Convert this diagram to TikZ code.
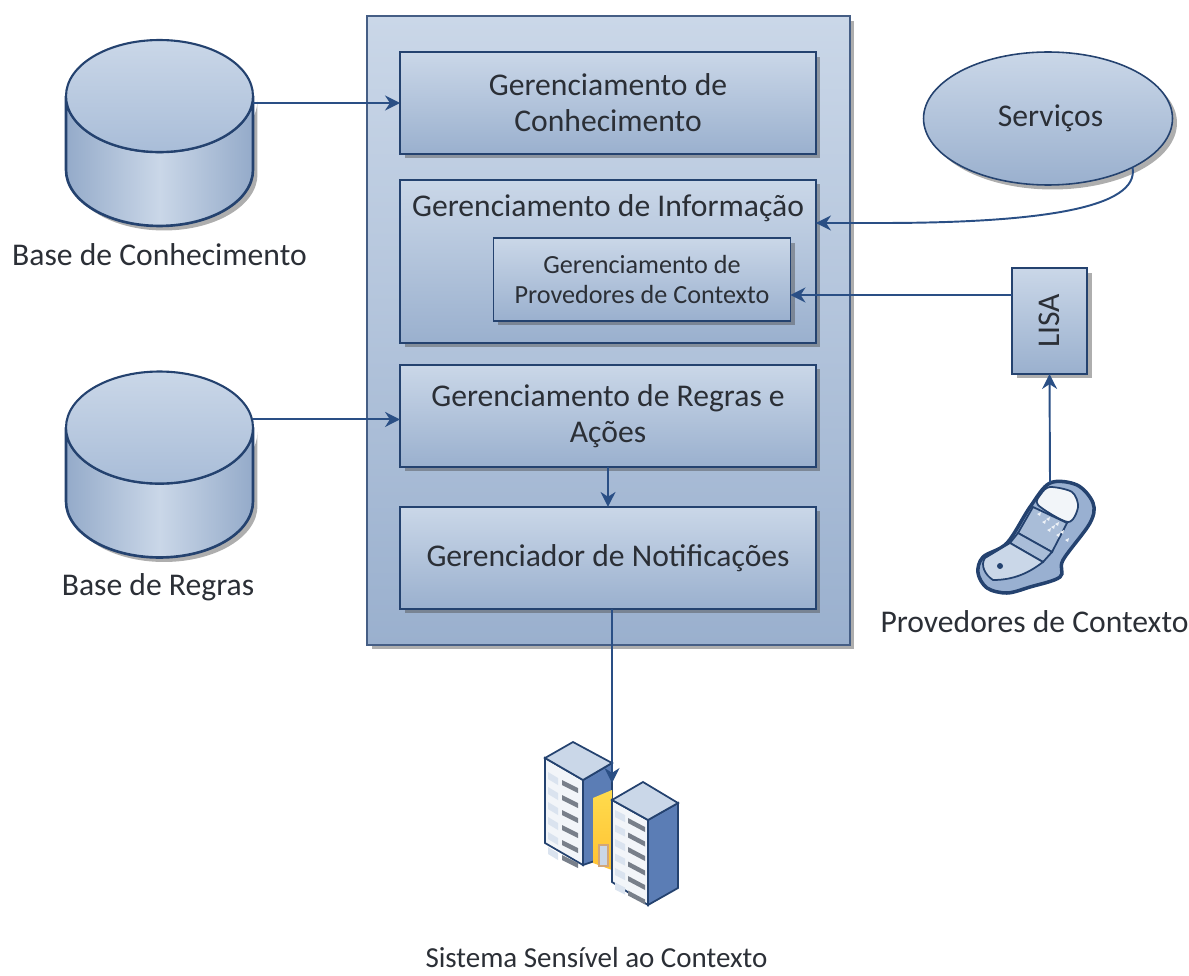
\documentclass[tikz,border=0pt]{standalone}
\usepackage{fontspec}
\setmainfont{Carlito}
\usetikzlibrary{arrows.meta,shapes.geometric,shadows,positioning}

\definecolor{borda}{HTML}{24426F}
\definecolor{seta}{HTML}{2A4F85}
\definecolor{claro}{HTML}{CAD7E8}
\definecolor{medio}{HTML}{A9BDD8}
\definecolor{escuro}{HTML}{9AB0CE}
\definecolor{lateral}{HTML}{5B7DB5}
\definecolor{texto}{HTML}{2B2F36}

\tikzset{
  sombra/.style={drop shadow={shadow xshift=.09cm,shadow yshift=-.09cm,opacity=.45,fill=black!70}},
  caixa/.style={rectangle,draw=borda,line width=.9pt,top color=claro,bottom color=escuro,
    minimum width=8.32cm,outer sep=0pt,inner sep=0pt,align=center,text=texto,sombra,
    font=\fontsize{18}{20.5}\selectfont},
  rotulo/.style={text=texto,inner sep=0pt,font=\fontsize{18}{20.5}\selectfont},
  base/.style={rectangle,minimum width=3.74cm,minimum height=3.72cm,outer sep=0pt,inner sep=0pt},
  corpo/.style={draw=borda,line width=1.5pt,left color=escuro!95!borda,right color=escuro!95!borda,
    middle color=claro,sombra},
  tampa/.style={ellipse,minimum width=3.74cm,minimum height=2.24cm,outer sep=0pt,inner sep=0pt,
    draw=borda,line width=1.2pt,top color=claro,bottom color=medio},
  liga/.style={draw=seta,line width=1.1pt,-{Stealth[length=.3cm,width=.3cm]}},
  peca/.style={draw=borda,line width=1pt},
}

\begin{document}
\begin{tikzpicture}[x=.02cm,y=-.02cm]
  \useasboundingbox (0,0) rectangle (1189,976);

  % bloco central
  \node (motor) [rectangle,draw=borda!85,line width=1pt,top color=claro,bottom color=escuro,
    minimum width=9.66cm,minimum height=12.58cm,outer sep=0pt,sombra] at (608.5,330.5) {};
  \node (gc) [caixa,minimum height=2.04cm] at (608,103) {Gerenciamento de\\Conhecimento};
  \node (gi) [caixa,minimum height=3.26cm,below=.52cm of gc] {};
  \node (gi label) [rotulo] at (608,208) {Gerenciamento de Informação};
  \node (gp) [caixa,minimum width=5.94cm,minimum height=1.66cm,
    font=\fontsize{14.9}{17.6}\selectfont] at (642,279.5) {Gerenciamento de\\Provedores de Contexto};
  \node (gr) [caixa,minimum height=2.04cm,below=.44cm of gi] {Gerenciamento de Regras e\\Ações};
  \node (gn) [caixa,minimum height=2.04cm,below=.8cm of gr] {Gerenciador de Notificações};

  % bases
  \node (bc) [base] at (159.5,133) {};
  \draw[corpo] ([yshift=-1.12cm]bc.north west) arc[start angle=180,end angle=360,x radius=1.87cm,y radius=1.12cm]
    -- ([yshift=1.12cm]bc.south east) arc[start angle=360,end angle=180,x radius=1.87cm,y radius=1.12cm] -- cycle;
  \node (bc top) [tampa] at (159.5,96) {};
  \node (bc label) [rotulo] at (159.5,255) {Base de Conhecimento};
  \node (br) [base] at (159.5,464.5) {};
  \draw[corpo] ([yshift=-1.12cm]br.north west) arc[start angle=180,end angle=360,x radius=1.87cm,y radius=1.12cm]
    -- ([yshift=1.12cm]br.south east) arc[start angle=360,end angle=180,x radius=1.87cm,y radius=1.12cm] -- cycle;
  \node (br top) [tampa] at (159.5,427.5) {};
  \node (br label) [rotulo] at (158,587) {Base de Regras};

  % servicos e lisa
  \node (serv) [ellipse,draw=borda,line width=.9pt,top color=claro,bottom color=escuro,
    minimum width=4.98cm,minimum height=2.66cm,outer sep=0pt,text=texto,sombra,inner sep=0pt,
    font=\fontsize{18}{20.5}\selectfont] at (1048,118.5) {\hspace{.1cm}Serviços};
  \node (lisa) [caixa,minimum width=1.5cm,minimum height=2.12cm] at (1049.5,321) {\rotatebox{90}{LISA}};

  % celular
  \coordinate (celular) at (1050,483);
  \draw[draw=borda,line width=2pt,fill=medio!80!lateral] plot[smooth cycle,tension=.55] coordinates
    {(1050,483) (1077,485) (1093,503) (1090,523) (1063,560) (1060,577) (1030,587) (1007,593) (987,588) (978,573) (983,557) (1007,543) (1030,507)};
  \draw[peca,fill=white!85!medio] plot[smooth cycle,tension=.5] coordinates
    {(1050,487) (1072,492) (1078,507) (1068,522) (1038,505) (1041,494)};
  \draw[peca,fill=medio] (1033,507) -- (1067,523) -- (1052,552) -- (1018,533) -- cycle;
  \draw[peca,fill=medio] (1018,533) -- (1052,552) -- (1043,562) -- (1010,543) -- cycle;
  \draw[peca,fill=claro] (1010,543) -- (1043,562) .. controls (1030,572) and (1015,580) .. (993,580)
    .. controls (985,575) and (980,565) .. (985,558) -- cycle;
  \fill[borda] (1000,566) circle (3);
  \foreach \i in {0,1,2} \foreach \j in {0,1,2}
    \fill[white!80!medio] (1037+\i*9+\j*5,514+\i*5+\j*8) -- ++(4,-2) -- ++(-1,4) -- cycle;

  % servidores
  \coordinate (servidor) at (612,783);
  \draw[peca,fill=white!75!claro] (545,758) -- (583,780) -- (583,865) -- (545,843) -- cycle;
  \draw[peca,fill=lateral] (583,780) -- (612,763) -- (612,855) -- (583,865) -- cycle;
  \draw[peca,fill=claro] (545,758) -- (573,742) -- (612,763) -- (583,780) -- cycle;
  \foreach \k in {0,...,5} {
    \fill[claro!70!white] (548,772+\k*15) -- (558,778+\k*15) -- (558,785+\k*15) -- (548,779+\k*15) -- cycle;
    \fill[gray!80!lateral] (562,780+\k*15) -- (578,788+\k*15) -- (578,793+\k*15) -- (562,785+\k*15) -- cycle;
  }
  \shade[top color=yellow!60!orange!70!white,bottom color=orange!60!yellow!80!white] (593,798) -- (612,790) -- (612,870) -- (593,863) -- cycle;
  \draw[draw=brown!70,line width=.8pt,fill=claro] (599,845) rectangle (608,866);
  \draw[peca,fill=white!75!claro] (612,800) -- (648,820) -- (648,905) -- (612,882) -- cycle;
  \draw[peca,fill=lateral] (648,820) -- (678,803) -- (678,888) -- (648,905) -- cycle;
  \draw[peca,fill=claro] (612,800) -- (643,782) -- (678,803) -- (648,820) -- cycle;
  \foreach \k in {0,...,5} {
    \fill[claro!70!white] (615,810+\k*14.5) -- (625,815+\k*14.5) -- (625,822+\k*14.5) -- (615,817+\k*14.5) -- cycle;
    \fill[gray!80!lateral] (628,818+\k*14.5) -- (645,827+\k*14.5) -- (645,832+\k*14.5) -- (628,823+\k*14.5) -- cycle;
  }

  \node (cel label) [rotulo] at (1034.5,622) {Provedores de Contexto};
  \node (srv label) [rotulo,font=\fontsize{16.5}{20}\selectfont] at (596.5,958) {Sistema Sensível ao Contexto};

  % ligacoes
  \draw[liga] (gc.west -| bc.east) -- (gc.west);
  \draw[liga] ([yshift=-.07cm]gr.west -| br.east) -- ([yshift=-.07cm]gr.west);
  \draw[liga] (gr.south) -- (gn.north);
  \draw[liga] (gn.south -| servidor) -- (servidor);
  \draw[liga] (celular) -- (lisa.south);
  \draw[liga] ([yshift=.52cm]lisa.west) -- ([yshift=.52cm]lisa.west -| gp.east);
  \draw[liga] (serv.-30) .. controls (1140,208) and (1040,223) .. (880,223) -- (gi.east |- 0,223);
\end{tikzpicture}
\end{document}
